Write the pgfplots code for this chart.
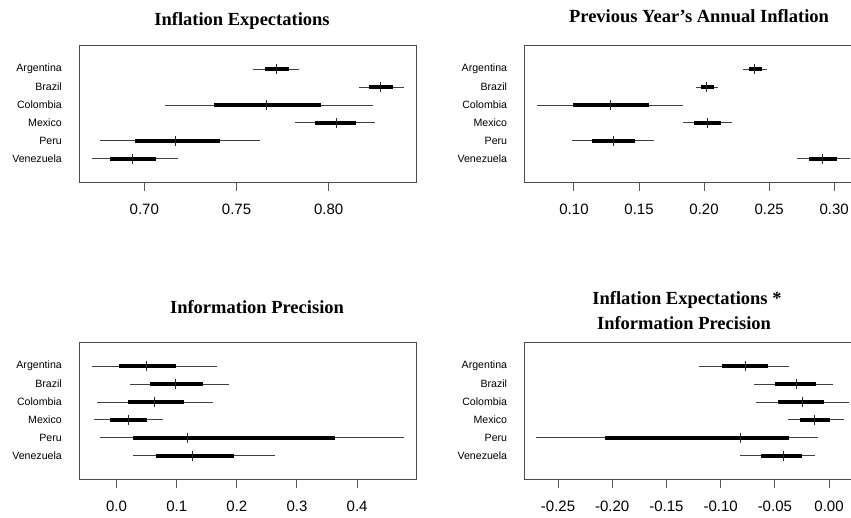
\documentclass[border=0pt]{standalone}
\usepackage{fontspec}
\setmainfont{Liberation Sans}
\newfontfamily\titlefont{Liberation Serif}
\usepackage{pgfplots}
\usepackage{pgfplotstable}
\pgfplotsset{compat=1.18}

\pgfplotstableread{
y med lo95 hi95 lo68 hi68
6 0.7718 0.7591 0.7839 0.7656 0.7783
5 0.8282 0.8163 0.8409 0.8217 0.8351
4 0.7662 0.7112 0.8239 0.7376 0.7957
3 0.8043 0.7816 0.8251 0.7928 0.8148
2 0.7168 0.6758 0.7629 0.6951 0.7409
1 0.6937 0.6714 0.7181 0.6814 0.7061
}\tabA
\pgfplotstableread{
y med lo95 hi95 lo68 hi68
6 0.2389 0.2297 0.2483 0.2343 0.2445
5 0.2020 0.1941 0.2105 0.1977 0.2074
4 0.1281 0.0714 0.1836 0.0995 0.1575
3 0.2023 0.1836 0.2215 0.1923 0.2128
2 0.1307 0.0982 0.1614 0.1136 0.1471
1 0.2913 0.2716 0.3118 0.2806 0.3023
}\tabB
\pgfplotstableread{
y med lo95 hi95 lo68 hi68
6 0.0499 -0.0416 0.1675 0.0044 0.0988
5 0.0982 0.0216 0.1875 0.0555 0.1431
4 0.0638 -0.0333 0.1609 0.0194 0.1115
3 0.0194 -0.0377 0.0766 -0.0105 0.0505
2 0.1176 -0.0283 0.4782 0.0266 0.3639
1 0.1259 0.0266 0.2630 0.0660 0.1953
}\tabC
\pgfplotstableread{
y med lo95 hi95 lo68 hi68
6 -0.0775 -0.1196 -0.0372 -0.0984 -0.0566
5 -0.0301 -0.0692 0.0034 -0.0498 -0.0117
4 -0.0246 -0.0677 0.0188 -0.0467 -0.0043
3 -0.0132 -0.0381 0.0135 -0.0264 0.0012
2 -0.0815 -0.2703 -0.0105 -0.2063 -0.0372
1 -0.0424 -0.0821 -0.0129 -0.0630 -0.0246
}\tabD

\pgfplotsset{
  coefaxis/.style={
    scale only axis, width=337.7pt, height=136.6pt, anchor=south west,
    ymin=-0.3, ymax=7.3,
    ytick={1,2,3,4,5,6},
    yticklabels={Venezuela,Peru,Mexico,Colombia,Brazil,Argentina},
    xtick pos=bottom, ytick pos=left,
    tick align=outside, major tick length=8.7pt,
    ytick style={draw=none},
    xtick style={draw=black!65, line width=1pt},
    axis line style={draw=black!70, line width=1pt},
    yticklabel style={font=\fontsize{10.6}{12}\selectfont, anchor=east, inner sep=0pt, xshift=-8.3pt},
    xticklabel style={font=\fontsize{15}{18}\selectfont, anchor=base, inner sep=0pt, yshift=-23.2pt},
    /pgf/number format/assume math mode=true,
    /pgf/number format/fixed, /pgf/number format/fixed zerofill,
    /pgf/number format/precision=2,
    scaled x ticks=false,
  }
}
\newcommand{\coefplots}[1]{%
  \addplot[draw=none, mark=none, forget plot,
    error bars/.cd, x dir=both, x explicit, error mark=none,
    error bar style={draw=black!75, line width=1pt}]
    table[x=med, y=y, x error plus expr=\thisrow{hi95}-\thisrow{med},
      x error minus expr=\thisrow{med}-\thisrow{lo95}] {#1};
  \addplot[draw=none, mark=none, forget plot,
    error bars/.cd, x dir=both, x explicit, error mark=none,
    error bar style={draw=black, line width=3.8pt}]
    table[x=med, y=y, x error plus expr=\thisrow{hi68}-\thisrow{med},
      x error minus expr=\thisrow{med}-\thisrow{lo68}] {#1};
  \addplot[only marks, mark=|, mark size=5.4pt,
    mark options={draw=black!85, line width=0.9pt}, forget plot]
    table[x=med, y=y] {#1};
}

\begin{document}
\begin{tikzpicture}
\useasboundingbox (0,0) rectangle (851pt,518pt);
\clip (0,0) rectangle (851pt,518pt);

\begin{axis}[coefaxis, at={(79pt,335.7pt)},
  xmin=0.6646, xmax=0.8477, xtick={0.70,0.75,0.80}]
\coefplots{\tabA}
\end{axis}

\begin{axis}[coefaxis, at={(524.3pt,335.7pt)},
  xmin=0.0618, xmax=0.3214, xtick={0.10,0.15,0.20,0.25,0.30}]
\coefplots{\tabB}
\end{axis}

\begin{axis}[coefaxis, at={(79pt,38.7pt)},
  xmin=-0.0624, xmax=0.499, xtick={0,0.1,0.2,0.3,0.4},
  /pgf/number format/precision=1]
\coefplots{\tabC}
\end{axis}

\begin{axis}[coefaxis, at={(524.3pt,38.7pt)},
  xmin=-0.2811, xmax=0.0304, xtick={-0.25,-0.20,-0.15,-0.10,-0.05,0}]
\coefplots{\tabD}
\end{axis}

\begin{scope}[every node/.style={anchor=base, inner sep=0pt,
    font=\titlefont\bfseries\fontsize{18.5}{22}\selectfont}]
\node at (242pt,492pt) {Inflation Expectations};
\node at (699pt,495.3pt) {Previous Year’s Annual Inflation};
\node at (257pt,204.7pt) {Information Precision};
\node at (687pt,213pt) {Inflation Expectations *};
\node at (684pt,188.7pt) {Information Precision};
\end{scope}
\end{tikzpicture}
\end{document}
